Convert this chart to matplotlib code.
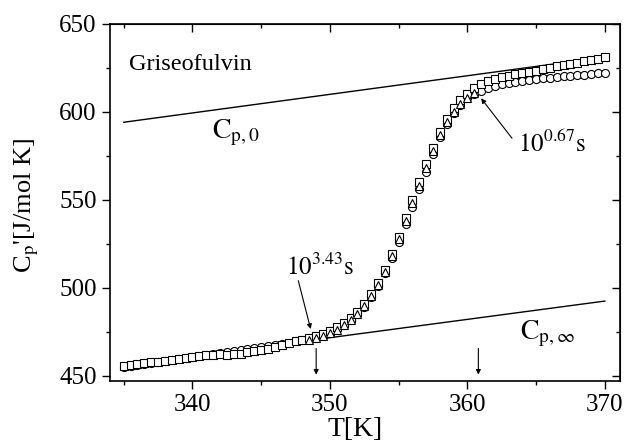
import matplotlib.pyplot as plt
from matplotlib.ticker import MultipleLocator

plt.rcParams['font.family'] = 'Liberation Serif'
plt.rcParams['mathtext.fontset'] = 'stix'

# temperature grid of the two full scans (K)
temp = [335.0, 335.5, 336.0, 336.5, 337.0, 337.5, 338.0, 338.5, 339.0, 339.5,
        340.0, 340.5, 341.0, 341.5, 342.0, 342.5, 343.0, 343.5, 344.0, 344.5,
        345.0, 345.5, 346.0, 346.5, 347.0, 347.5, 348.0, 348.5, 349.0, 349.5,
        350.0, 350.5, 351.0, 351.5, 352.0, 352.5, 353.0, 353.5, 354.0, 354.5,
        355.0, 355.5, 356.0, 356.5, 357.0, 357.5, 358.0, 358.5, 359.0, 359.5,
        360.0, 360.5, 361.0, 361.5, 362.0, 362.5, 363.0, 363.5, 364.0, 364.5,
        365.0, 365.5, 366.0, 366.5, 367.0, 367.5, 368.0, 368.5, 369.0, 369.5,
        370.0]

cp_squares = [455.6, 456.0, 456.5, 457.0, 457.5, 458.0, 458.5, 459.0, 459.5, 460.0,
              460.5, 461.0, 461.5, 462.0, 462.3, 462.0, 462.2, 462.6, 463.2, 463.8,
              464.5, 465.3, 466.2, 467.2, 468.4, 469.5, 470.5, 471.5, 472.5, 473.8,
              475.4, 477.4, 479.8, 482.8, 486.4, 490.8, 496.2, 502.6, 510.2, 519.0,
              528.8, 539.5, 550.0, 560.0, 570.0, 579.5, 588.5, 596.0, 602.0, 606.5,
              610.3, 613.2, 615.5, 617.2, 618.5, 619.6, 620.5, 621.3, 622.0, 622.7,
              623.4, 624.2, 624.9, 625.7, 626.4, 627.2, 627.9, 628.7, 629.4, 630.2,
              631.0]

cp_circles = [455.0, 455.5, 456.0, 456.5, 457.1, 457.6, 458.2, 458.7, 459.3, 459.9,
              460.5, 461.0, 461.6, 462.1, 462.7, 463.3, 463.9, 464.5, 465.1, 465.7,
              466.3, 466.9, 467.5, 468.1, 468.8, 469.5, 470.2, 471.0, 472.0, 473.2,
              474.6, 476.4, 478.7, 481.5, 485.0, 489.2, 494.5, 500.8, 508.2, 516.8,
              526.2, 536.0, 546.0, 556.0, 566.0, 576.0, 585.5, 593.0, 599.0, 603.8,
              607.5, 610.2, 612.0, 613.4, 614.6, 615.5, 616.3, 617.0, 617.6, 618.1,
              618.6, 619.0, 619.4, 619.8, 620.2, 620.5, 620.8, 621.1, 621.4, 621.7,
              622.0]

# third scan, only through the transition
temp_tri = [348.5, 349.0, 349.5, 350.0, 350.5, 351.0, 351.5, 352.0, 352.5, 353.0,
            353.5, 354.0, 354.5, 355.0, 355.5, 356.0, 356.5, 357.0, 357.5, 358.0,
            358.5, 359.0, 359.5, 360.0, 360.5]
cp_triangles = [470.3, 471.5, 472.8, 474.3, 476.2, 478.6, 481.5, 485.2, 489.6, 495.0,
                501.5, 509.0, 517.8, 527.5, 537.8, 548.0, 558.0, 568.0, 577.5, 586.5,
                594.0, 600.0, 604.5, 608.0, 610.8]

# liquid and glass baselines
base_T = [335, 370]
cp_0 = [594.0, 631.0]
cp_inf = [456.0, 492.4]

# marked temperatures on the bottom
mark_T = [349.0, 360.8]

fig = plt.figure(figsize=(6.3, 4.47), dpi=100)
ax = fig.add_axes([0.1746, 0.1477, 0.8094, 0.7993])

ax.plot(base_T, cp_0, color='black', lw=1.0)
ax.plot(base_T, cp_inf, color='black', lw=1.0)

mk = dict(ls='none', mfc='white', mec='black', ms=5.8, mew=0.8)
ax.plot(temp, cp_circles, marker='o', **mk)
ax.plot(temp, cp_squares, marker='s', **mk)
ax.plot(temp_tri, cp_triangles, marker='^', **mk)

for t in mark_T:
    ax.annotate('', xy=(t, 450.6), xytext=(t, 465.5),
                arrowprops=dict(arrowstyle='-|>', color='black', lw=0.8,
                                mutation_scale=7, shrinkA=0, shrinkB=0))

ax.annotate('', xy=(348.6, 476.5), xytext=(347.7, 504.0),
            arrowprops=dict(arrowstyle='-|>', color='black', lw=0.8,
                            mutation_scale=7, shrinkA=0, shrinkB=0))
ax.annotate('', xy=(361.0, 607.6), xytext=(363.25, 584.9),
            arrowprops=dict(arrowstyle='-|>', color='black', lw=0.8,
                            mutation_scale=7, shrinkA=0, shrinkB=0))

ax.text(346.8, 507.2, r'$\mathrm{10^{3.43}s}$', fontsize=18)
ax.text(363.66, 577.3, r'$\mathrm{10^{0.67}s}$', fontsize=18)
ax.text(335.4, 623.7, 'Griseofulvin', fontsize=17.5)
ax.text(341.45, 585.1, r'$\mathrm{C_{p,0}}$', fontsize=20)
ax.text(363.8, 470.9, r'$\mathrm{C_{p,\infty}}$', fontsize=20)

ax.set_xlim(334.0, 371.1)
ax.set_ylim(447, 650)
ax.xaxis.set_major_locator(MultipleLocator(10))
ax.xaxis.set_minor_locator(MultipleLocator(5))
ax.yaxis.set_major_locator(MultipleLocator(50))
ax.yaxis.set_minor_locator(MultipleLocator(25))
ax.tick_params(which='major', direction='out', length=6, width=1.0, labelsize=18)
ax.tick_params(which='minor', direction='out', length=3, width=1.0)
for s in ax.spines.values():
    s.set_linewidth(1.2)

# mirrored axes with inward ticks
top = ax.secondary_xaxis('top')
top.xaxis.set_major_locator(MultipleLocator(10))
top.xaxis.set_minor_locator(MultipleLocator(5))
top.tick_params(which='major', direction='in', length=6, width=1.0, labeltop=False)
top.tick_params(which='minor', direction='in', length=3, width=1.0)
right = ax.secondary_yaxis('right')
right.yaxis.set_major_locator(MultipleLocator(50))
right.yaxis.set_minor_locator(MultipleLocator(25))
right.tick_params(which='major', direction='in', length=6, width=1.0, labelright=False)
right.tick_params(which='minor', direction='in', length=3, width=1.0)

ax.set_xlabel('T[K]', fontsize=20, labelpad=0)
ax.xaxis.set_label_coords(0.48, -0.1)
ax.xaxis.label.set_va('top')
ax.set_ylabel(r"C$_\mathrm{p}$'[J/mol K]", fontsize=19)
ax.yaxis.set_label_coords(-0.135, 0.49)

fig.savefig('out.png', dpi=100)
